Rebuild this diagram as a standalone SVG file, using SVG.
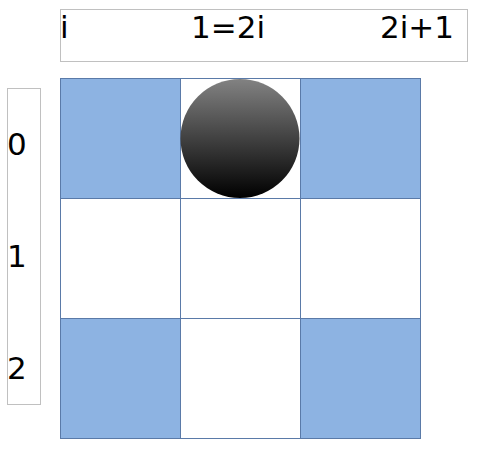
<svg xmlns="http://www.w3.org/2000/svg" width="478" height="451" viewBox="0 0 478 451">
<style>
.lbl{font-family:"DejaVu Sans",sans-serif;font-size:31px;fill:#000}
.box{fill:#fff;stroke:#c0c0c0;stroke-width:1}
.cell{stroke:#5a7aa8;stroke-width:1}
.b{fill:#8db3e2}
.w{fill:#fff}
</style>
<defs>
<linearGradient id="g" x1="0" y1="0" x2="0" y2="1">
<stop offset="0" stop-color="#828282"/>
<stop offset="1" stop-color="#000"/>
</linearGradient>
</defs>
<rect width="478" height="451" fill="#fff"/>
<g id="header"><rect class="box" x="60.5" y="9.5" width="407" height="52"/>
<text class="lbl" x="60" y="38">i</text>
<text class="lbl" x="191" y="38">1=2i</text>
<text class="lbl" x="380" y="38">2i+1</text></g>
<g id="rows"><rect class="box" x="7.5" y="88.5" width="33" height="316"/>
<text class="lbl" x="7" y="155">0</text>
<text class="lbl" x="7" y="267">1</text>
<text class="lbl" x="7" y="379">2</text></g>
<g id="grid">
<rect id="c00" class="cell b" x="60.5" y="78.5" width="120" height="120"/>
<rect id="c01" class="cell w" x="180.5" y="78.5" width="120" height="120"/>
<rect id="c02" class="cell b" x="300.5" y="78.5" width="120" height="120"/>
<rect id="c10" class="cell w" x="60.5" y="198.5" width="120" height="120"/>
<rect id="c11" class="cell w" x="180.5" y="198.5" width="120" height="120"/>
<rect id="c12" class="cell w" x="300.5" y="198.5" width="120" height="120"/>
<rect id="c20" class="cell b" x="60.5" y="318.5" width="120" height="120"/>
<rect id="c21" class="cell w" x="180.5" y="318.5" width="120" height="120"/>
<rect id="c22" class="cell b" x="300.5" y="318.5" width="120" height="120"/>
</g>
<g id="ball"><circle cx="240" cy="138.5" r="59.5" fill="url(#g)"/></g>
</svg>
